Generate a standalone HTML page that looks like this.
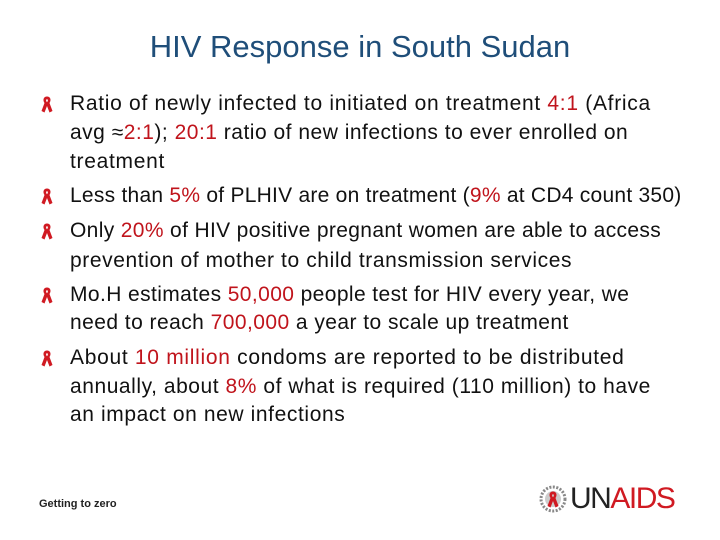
<!DOCTYPE html>
<html><head><meta charset="utf-8"><style>
body{margin:0;width:720px;height:540px;background:#fff;position:relative;overflow:hidden;font-family:"Liberation Sans",sans-serif}
.t{position:absolute;left:0;width:720px;top:29px;text-align:center;font-size:31px;color:#1f4e79}
.l{position:absolute;left:70px;font-size:21px;letter-spacing:0.7px;color:#111;white-space:nowrap;line-height:22px}
.r{color:#c0141c}
.b{position:absolute;left:40px;width:14px;height:18px}
</style></head><body>
<div class="t">HIV Response in South Sudan</div>
<svg width="0" height="0" style="position:absolute"><defs><symbol id="rib" viewBox="0 0 14 18"><path d="M7 1.5 C3.5 1.5 2.5 5 4.5 8 L1.5 16 L4.5 17.5 L7 11 L9.5 17.5 L12.5 16 L9.5 8 C11.5 5 10.5 1.5 7 1.5 Z M7 4.2 C8.2 4.2 8.2 6 7 7.2 C5.8 6 5.8 4.2 7 4.2Z" fill="#d01a22" fill-rule="evenodd"/></symbol></defs></svg>
<div>
<svg class="b" style="top:95px"><use href="#rib"/></svg>
<div class="l" style="top:93px">Ratio of newly infected to initiated on treatment <span class="r">4:1</span> (Africa</div>
<div class="l" style="top:122px;letter-spacing:0.5px">avg ≈<span class="r">2:1</span>); <span class="r">20:1</span> ratio of new infections to ever enrolled on</div>
<div class="l" style="top:151px">treatment</div>
<svg class="b" style="top:187px"><use href="#rib"/></svg>
<div class="l" style="top:185px;letter-spacing:0.25px">Less than <span class="r">5%</span> of PLHIV are on treatment (<span class="r">9%</span> at CD4 count 350)</div>
<svg class="b" style="top:222px"><use href="#rib"/></svg>
<div class="l" style="top:220px;letter-spacing:0.35px">Only <span class="r">20%</span> of HIV positive pregnant women are able to access</div>
<div class="l" style="top:250px;letter-spacing:0.6px">prevention of mother to child transmission services</div>
<svg class="b" style="top:286px"><use href="#rib"/></svg>
<div class="l" style="top:284px;letter-spacing:0.4px">Mo.H estimates <span class="r">50,000</span> people test for HIV every year, we</div>
<div class="l" style="top:312px;letter-spacing:0.45px">need to reach <span class="r">700,000</span> a year to scale up treatment</div>
<svg class="b" style="top:349px"><use href="#rib"/></svg>
<div class="l" style="top:347px">About <span class="r">10 million</span> condoms are reported to be distributed</div>
<div class="l" style="top:376px;letter-spacing:0.55px">annually, about <span class="r">8%</span> of what is required (110 million) to have</div>
<div class="l" style="top:404px;letter-spacing:0.6px">an impact on new infections</div>
</div>
<div style="position:absolute;left:39px;top:498px;font-size:11px;font-weight:bold;color:#222">Getting to zero</div>
<div style="position:absolute;left:538px;top:483px;height:32px;display:flex;align-items:center">
<svg width="30" height="30" viewBox="0 0 30 30"><circle cx="15" cy="15" r="12" fill="none" stroke="#888" stroke-width="3" stroke-dasharray="2 1.5"/><circle cx="15" cy="15" r="8" fill="#ccc"/><use href="#rib" x="8" y="5" width="14" height="20"/></svg>
<span style="font-size:30px;letter-spacing:-1.5px;color:#222;margin-left:2px">UN</span><span style="font-size:30px;letter-spacing:-1.5px;color:#d01a22">AIDS</span>
</div>
</body></html>
